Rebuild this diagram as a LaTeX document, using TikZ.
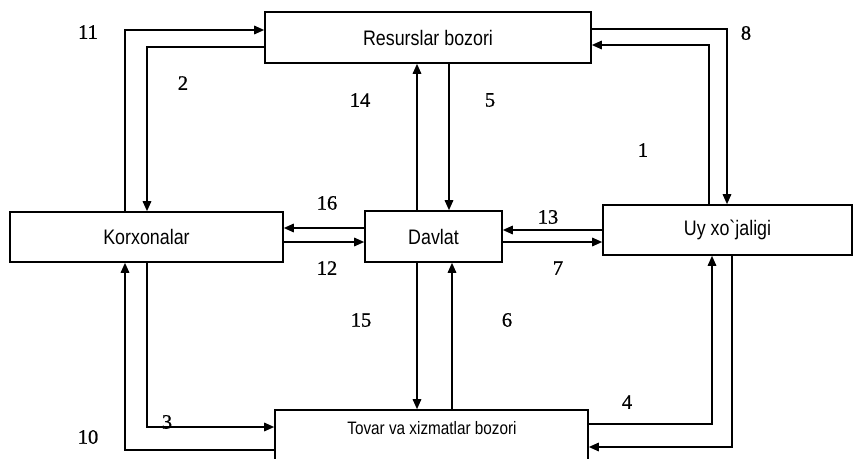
\documentclass[tikz,border=0pt]{standalone}
\usepackage{fontspec}
\usetikzlibrary{arrows.meta}
\newfontfamily\boxfont[FakeStretch=0.85]{Liberation Sans}
\newfontfamily\numfont[FakeBold=0.8]{Liberation Serif}
\tikzset{
  box/.style={draw, line width=1.6pt, inner sep=0pt, font=\boxfont\fontsize{21}{24}\selectfont},
  arr/.style={line width=1.6pt, -{Triangle[length=10pt,width=8.5pt]}},
  num/.style={font=\numfont\fontsize{20.5}{22}\selectfont, inner sep=0pt}
}
\begin{document}
\begin{tikzpicture}[x=1pt,y=-1pt]
\clip (0,0) rectangle (854,458);
\fill[white] (0,0) rectangle (854,458);
% boxes
\node[box, minimum width=326, minimum height=51] (res) at (428,37.5) {Resurslar bozori};
\node[box, minimum width=273, minimum height=50] (kor) at (146.5,237) {Korxonalar};
\node[box, minimum width=137, minimum height=51] (dav) at (433.5,236.5) {Davlat};
\node[box, minimum width=249, minimum height=50] (uy) at (727.5,230) {Uy xo`jaligi};
\node[box, minimum width=313, minimum height=60] (tov) at (431.5,440) {};
\node[font=\boxfont\fontsize{18}{20}\selectfont] (tovt) at (432,428) {Tovar va xizmatlar bozori};
% helper coordinates
\coordinate (c11) at (125,30);
\coordinate (c2) at (147,47);
\coordinate (c10) at (125,450);
\coordinate (c3) at (147,427);
\coordinate (c16) at (0,228);
\coordinate (c12) at (0,242);
\coordinate (c14) at (417,0);
\coordinate (c5) at (449,0);
\coordinate (c6) at (452,0);
\coordinate (c13) at (0,230);
\coordinate (c8) at (727,29);
\coordinate (c1) at (709,45);
\coordinate (c4) at (712,424);
\coordinate (c9) at (732,447);
% connectors
\draw[arr] (kor.north -| c11) |- (res.west |- c11);
\draw[arr] (res.west |- c2) -| (kor.north -| c2);
\draw[arr] (tov.west |- c10) -| (kor.south -| c10);
\draw[arr] (kor.south -| c3) |- (tov.west |- c3);
\draw[arr] (dav.west |- c16) -- (kor.east |- c16);
\draw[arr] (kor.east |- c12) -- (dav.west |- c12);
\draw[arr] (dav.north -| c14) -- (res.south -| c14);
\draw[arr] (res.south -| c5) -- (dav.north -| c5);
\draw[arr] (dav.south -| c14) -- (tov.north -| c14);
\draw[arr] (tov.north -| c6) -- (dav.south -| c6);
\draw[arr] (uy.west |- c13) -- (dav.east |- c13);
\draw[arr] (dav.east |- c12) -- (uy.west |- c12);
\draw[arr] (res.east |- c8) -| (uy.north -| c8);
\draw[arr] (uy.north -| c1) |- (res.east |- c1);
\draw[arr] (tov.east |- c4) -| (uy.south -| c4);
\draw[arr] (uy.south -| c9) |- (tov.east |- c9);
% labels
\node[num] (n11) at (88,32) {11};
\node[num] (n2) at (183,83) {2};
\node[num] (n14) at (360,100) {14};
\node[num] (n5) at (490,100) {5};
\node[num] (n8) at (746,33) {8};
\node[num] (n1) at (643,150) {1};
\node[num] (n16) at (327,203) {16};
\node[num] (n12) at (327,268) {12};
\node[num] (n13) at (548,217) {13};
\node[num] (n7) at (558,268) {7};
\node[num] (n15) at (361,320) {15};
\node[num] (n6) at (507,320) {6};
\node[num] (n3) at (167,422) {3};
\node[num] (n10) at (88,437) {10};
\node[num] (n4) at (627,402) {4};
\end{tikzpicture}
\end{document}
